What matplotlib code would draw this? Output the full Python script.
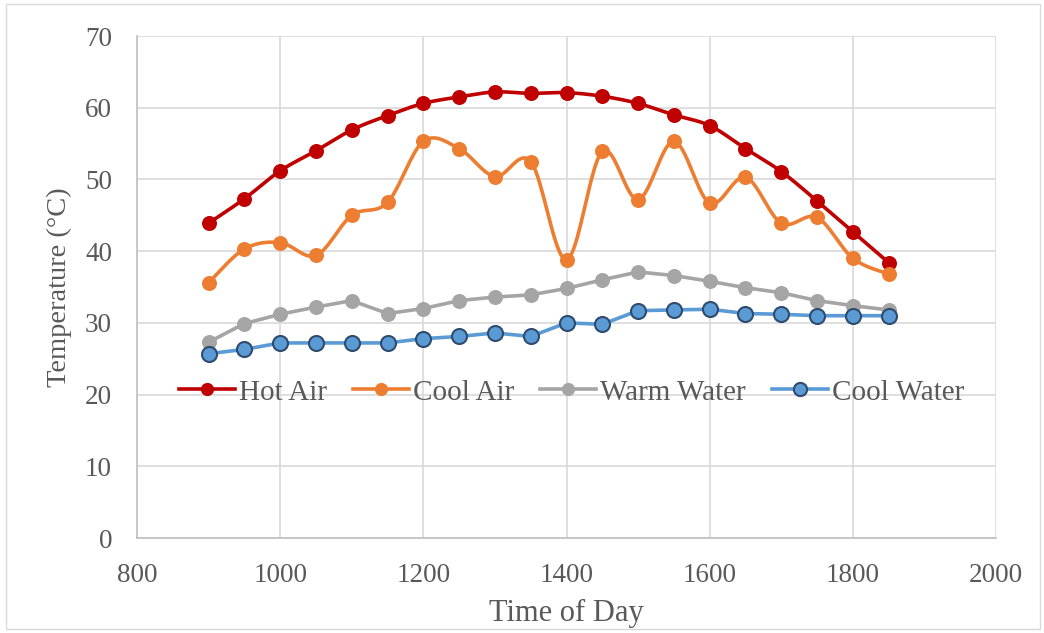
import numpy as np
import matplotlib
matplotlib.use("Agg")
import matplotlib.pyplot as plt
from matplotlib.patches import Rectangle
from matplotlib.lines import Line2D

plt.rcParams['font.family'] = ['Liberation Serif', 'DejaVu Serif']

# time of day (hhmm)
time_of_day = [900, 950, 1000, 1050, 1100, 1150, 1200, 1250, 1300, 1350,
               1400, 1450, 1500, 1550, 1600, 1650, 1700, 1750, 1800, 1850]

hot_air = [43.9, 47.3, 51.2, 54.0, 56.9, 58.9, 60.6, 61.5, 62.2, 62.0,
           62.1, 61.6, 60.6, 59.0, 57.5, 54.3, 51.1, 47.0, 42.7, 38.4]
cool_air = [35.6, 40.3, 41.2, 39.4, 45.0, 46.8, 55.3, 54.3, 50.4, 52.5,
            38.8, 53.9, 47.2, 55.3, 46.7, 50.3, 43.9, 44.7, 39.0, 36.8]
warm_water = [27.3, 29.9, 31.2, 32.2, 33.1, 31.3, 32.0, 33.1, 33.6, 33.9,
              34.8, 36.0, 37.1, 36.6, 35.8, 34.9, 34.2, 33.1, 32.4, 31.8]
cool_water = [25.7, 26.3, 27.2, 27.2, 27.2, 27.2, 27.8, 28.1, 28.6, 28.1,
              30.0, 29.8, 31.7, 31.8, 31.9, 31.3, 31.2, 31.0, 31.0, 31.0]

x_ticks = [800, 1000, 1200, 1400, 1600, 1800, 2000]
y_ticks = [0, 10, 20, 30, 40, 50, 60, 70]

text_color = '#595959'


def smooth_line(x, y, n=20):
    # Catmull-Rom style curve through the points, like Excel "smoothed line"
    x = np.asarray(x, float)
    y = np.asarray(y, float)
    px = np.concatenate([[x[0]], x, [x[-1]]])
    py = np.concatenate([[y[0]], y, [y[-1]]])
    xs, ys = [], []
    t = np.linspace(0, 1, n)
    for i in range(1, len(px) - 2):
        p0, p1, p2, p3 = [np.array([px[j], py[j]]) for j in range(i - 1, i + 3)]
        c1 = p1 + (p2 - p0) / 6
        c2 = p2 - (p3 - p1) / 6
        pts = ((1 - t)[:, None] ** 3 * p1 + 3 * ((1 - t) ** 2 * t)[:, None] * c1
               + 3 * ((1 - t) * t ** 2)[:, None] * c2 + (t ** 3)[:, None] * p2)
        xs.extend(pts[:, 0])
        ys.extend(pts[:, 1])
    return xs, ys


fig = plt.figure(figsize=(10.44, 6.33), dpi=100)
ax = fig.add_axes([137 / 1044, 1 - 538 / 633, (996 - 137) / 1044, (538 - 36) / 633])

fig.patches.append(Rectangle((6 / 1044, 4 / 633), 1034 / 1044, 625 / 633,
                             transform=fig.transFigure, fill=False,
                             edgecolor='#D9D9D9', linewidth=1))

series = [
    ('Hot Air', hot_air, '#C00000', '#C00000', True),
    ('Cool Air', cool_air, '#ED7D31', '#ED7D31', True),
    ('Warm Water', warm_water, '#A5A5A5', '#A5A5A5', False),
    ('Cool Water', cool_water, '#5B9BD5', '#2F4B6E', False),
]

handles = []
for name, vals, color, edge, smooth in series:
    if smooth:
        sx, sy = smooth_line(time_of_day, vals)
    else:
        sx, sy = time_of_day, vals
    ew = 1.5 if edge != color else 0
    ax.plot(sx, sy, color=color, linewidth=2.6, zorder=3, solid_capstyle='round')
    ax.plot(time_of_day, vals, linestyle='none', marker='o', markersize=10.8,
            markerfacecolor=color, markeredgecolor=edge,
            markeredgewidth=ew, zorder=4)
    handles.append(Line2D([], [], color=color, linewidth=2.6, marker='o', markersize=9.5,
                          markerfacecolor=color, markeredgecolor=edge,
                          markeredgewidth=ew, label=name))

ax.set_xlim(800, 2000)
ax.set_ylim(0, 70)
ax.set_xticks(x_ticks)
ax.set_yticks(y_ticks)
ax.grid(True, color='#D9D9D9', linewidth=1.2)
ax.set_axisbelow(True)
for s in ['top', 'right']:
    ax.spines[s].set_visible(False)
for s in ['left', 'bottom']:
    ax.spines[s].set_color('#BFBFBF')
    ax.spines[s].set_linewidth(1.2)
ax.tick_params(length=0, labelsize=19.5, colors=text_color, pad=18)

ax.set_xlabel('Time of Day', fontsize=22, color=text_color, labelpad=8)
ax.set_ylabel('Temperature (°C)', fontsize=20.5, color=text_color, labelpad=9)

ax.legend(handles=handles, loc='center', bbox_to_anchor=(0.506, 0.29), ncol=4,
          frameon=False, fontsize=21, labelcolor=text_color, handlelength=1.9,
          handletextpad=0.15, columnspacing=0.9)

fig.savefig('out.png', dpi=100)
